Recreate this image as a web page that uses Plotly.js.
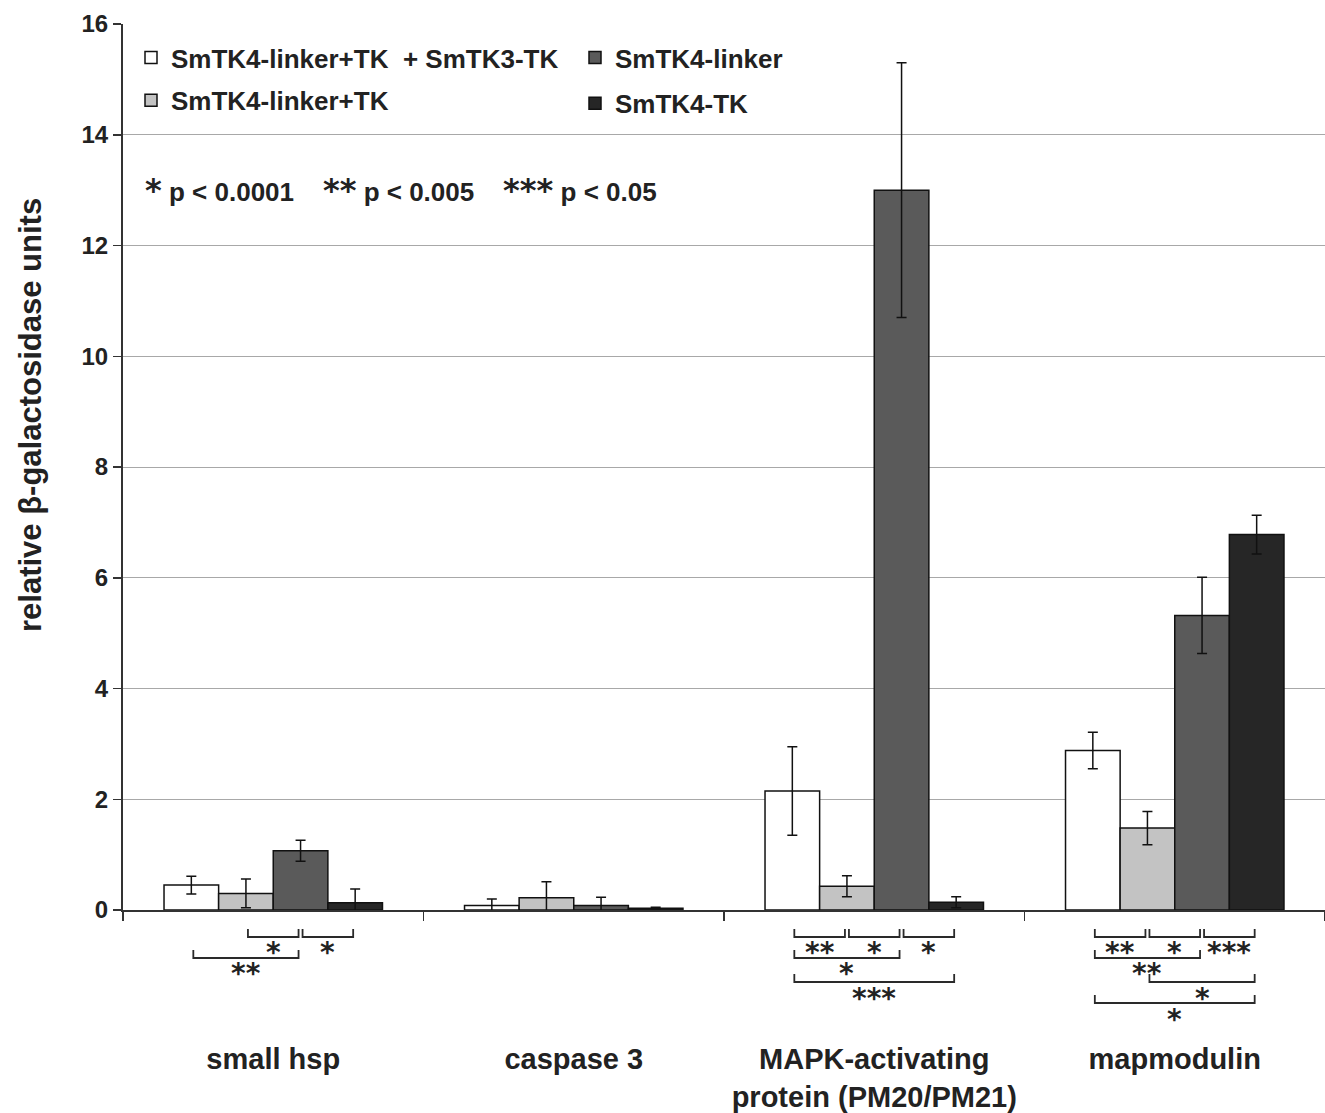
<!DOCTYPE html>
<html>
<head>
<meta charset="utf-8">
<script src="https://cdn.plot.ly/plotly-3.0.1.min.js"></script>
<style>html,body{margin:0;padding:0;background:#fff;}#chart{width:1325px;height:1113px;}</style>
</head>
<body>
<div id="chart"></div>
<script>
// ---- data ----
const categories = ["small hsp", "caspase 3", "MAPK-activating<br>protein (PM20/PM21)", "mapmodulin"];
const seriesNames = ["SmTK4-linker+TK  + SmTK3-TK", "SmTK4-linker+TK", "SmTK4-linker", "SmTK4-TK"];
const valsLinkerTKplusTK3 = [0.45, 0.08, 2.15, 2.88];
const errLinkerTKplusTK3  = [0.16, 0.12, 0.80, 0.33];
const valsLinkerTK        = [0.30, 0.22, 0.43, 1.48];
const errLinkerTK         = [0.26, 0.29, 0.19, 0.30];
const valsLinker          = [1.07, 0.08, 13.0, 5.32];
const errLinker           = [0.19, 0.15, 2.30, 0.69];
const valsTK              = [0.13, 0.03, 0.14, 6.78];
const errTK               = [0.25, 0.02, 0.10, 0.35];
const yTickVals = [0, 2, 4, 6, 8, 10, 12, 14, 16];
// significance brackets: [category index, from series, to series, row, label]
const brackets = [
  [0, 1, 2, 0, "*"], [0, 2, 3, 0, "*"], [0, 0, 2, 1, "**"],
  [2, 0, 1, 0, "**"], [2, 1, 2, 0, "*"], [2, 2, 3, 0, "*"], [2, 0, 2, 1, "*"], [2, 0, 3, 2, "***"],
  [3, 0, 1, 0, "**"], [3, 1, 2, 0, "*"], [3, 2, 3, 0, "***"], [3, 0, 2, 1, "**"], [3, 1, 3, 2, "*"], [3, 0, 3, 3, "*"]
];
const pLegend = [["*", "p < 0.0001"], ["**", "p < 0.005"], ["***", "p < 0.05"]];
const yTitle = "relative β-galactosidase units";

// ---- styles ----
const FONT = "Liberation Sans, Arial, sans-serif";
const STARFONT = "DejaVu Sans, sans-serif";
const colors = ["#ffffff", "#c3c3c3", "#5a5a5a", "#262626"];
const values = [valsLinkerTKplusTK3, valsLinkerTK, valsLinker, valsTK];
const errors = [errLinkerTKplusTK3, errLinkerTK, errLinker, errTK];
const legendAssign = ["legend", "legend", "legend2", "legend2"];
const BARGAP = 0.273;

const traces = values.map((v, i) => ({
  type: "bar",
  x: categories,
  y: v,
  name: seriesNames[i],
  legend: legendAssign[i],
  legendgroup: "g" + i,
  marker: {color: colors[i], line: {color: "#111", width: 1.5}},
  error_y: {type: "data", array: errors[i], visible: true, color: "#111", thickness: 1.5, width: 5}
}));

// geometry for brackets (in paper coords)
const M = {l: 123, r: 0, t: 24, b: 203};
const W = 1325, H = 1113;
const plotW = W - M.l - M.r, plotH = H - M.t - M.b;
const nS = values.length;
function barCenterPaper(ci, si) {
  const gw = 1 - BARGAP, bw = gw / nS;
  const xd = ci - gw / 2 + bw * (si + 0.5);
  return (xd + 0.5) / categories.length;
}
function pyPaper(px) { return -(px) / plotH; } // px below axis
const rowLine = [27, 48, 72, 93];
const shapes = [];
const annotations = [];
brackets.forEach(b => {
  const [ci, s0, s1, row, lab] = b;
  const x0 = barCenterPaper(ci, s0) + 2 / plotW;
  const x1 = barCenterPaper(ci, s1) - 2 / plotW;
  const yl = rowLine[row];
  shapes.push({
    type: "path", xref: "paper", yref: "paper",
    path: `M${x0},${pyPaper(yl - 8)} L${x0},${pyPaper(yl)} L${x1},${pyPaper(yl)} L${x1},${pyPaper(yl - 8)}`,
    line: {color: "#2a2a2a", width: 1.8}
  });
  annotations.push({
    xref: "paper", yref: "paper", x: (x0 + x1) / 2, y: pyPaper(yl + 10),
    text: lab, showarrow: false, xanchor: "center", yanchor: "middle", yshift: -6,
    font: {family: STARFONT, size: 28, color: "#222", weight: "bold"}
  });
});
const pStarStyle = "font-family:DejaVu Sans;font-size:32px;font-weight:bold";
const pText = pLegend.map(p => `<span style="${pStarStyle}">${p[0]}</span> <b>${p[1]}</b>`).join("    ");
annotations.push({
  xref: "paper", yref: "paper", x: (143 - M.l) / plotW, y: (910 - 190) / plotH,
  text: pText, showarrow: false, xanchor: "left", yanchor: "middle",
  font: {family: FONT, size: 26, color: "#222"}
});
annotations.push({
  xref: "paper", yref: "paper", x: (30 - M.l) / plotW, y: (910 - 415) / plotH,
  text: "<b>" + yTitle + "</b>", showarrow: false, textangle: -90, xanchor: "center", yanchor: "middle",
  font: {family: FONT, size: 31, color: "#222"}
});

const layout = {
  width: W, height: H,
  margin: M,
  paper_bgcolor: "#fff", plot_bgcolor: "#fff",
  barmode: "group", bargap: BARGAP, bargroupgap: 0,
  font: {family: FONT, color: "#222"},
  xaxis: {
    type: "category", range: [-0.5, 3.5], showline: true, linecolor: "#333", linewidth: 2,
    ticks: "outside", tickson: "boundaries", ticklen: 9, tickcolor: "#333", tickwidth: 1.5,
    showgrid: false, ticklabelstandoff: 122,
    tickfont: {family: FONT, size: 29, color: "#222", weight: "bold"}
  },
  yaxis: {
    range: [0, 16], tickvals: yTickVals, showline: true, linecolor: "#333", linewidth: 2,
    ticks: "outside", ticklen: 8, tickcolor: "#333", tickwidth: 1.5, zeroline: false,
    showgrid: true, gridcolor: "#a8a8a8", gridwidth: 1,
    tickfont: {family: FONT, size: 24, color: "#222", weight: "bold"}
  },
  showlegend: true,
  legend: {
    x: (131 - M.l) / plotW, y: (910 - 34) / plotH, xanchor: "left", yanchor: "top",
    bgcolor: "rgba(0,0,0,0)", tracegroupgap: 6, traceorder: "grouped",
    font: {family: FONT, size: 26, color: "#222", weight: "bold"}
  },
  legend2: {
    x: (575 - M.l) / plotW, y: (910 - 34) / plotH, xanchor: "left", yanchor: "top",
    bgcolor: "rgba(0,0,0,0)", tracegroupgap: 9, traceorder: "grouped",
    font: {family: FONT, size: 26, color: "#222", weight: "bold"}
  },
  shapes: shapes,
  annotations: annotations
};

Plotly.newPlot("chart", traces, layout, {displayModeBar: false, staticPlot: true});
</script>
</body>
</html>
